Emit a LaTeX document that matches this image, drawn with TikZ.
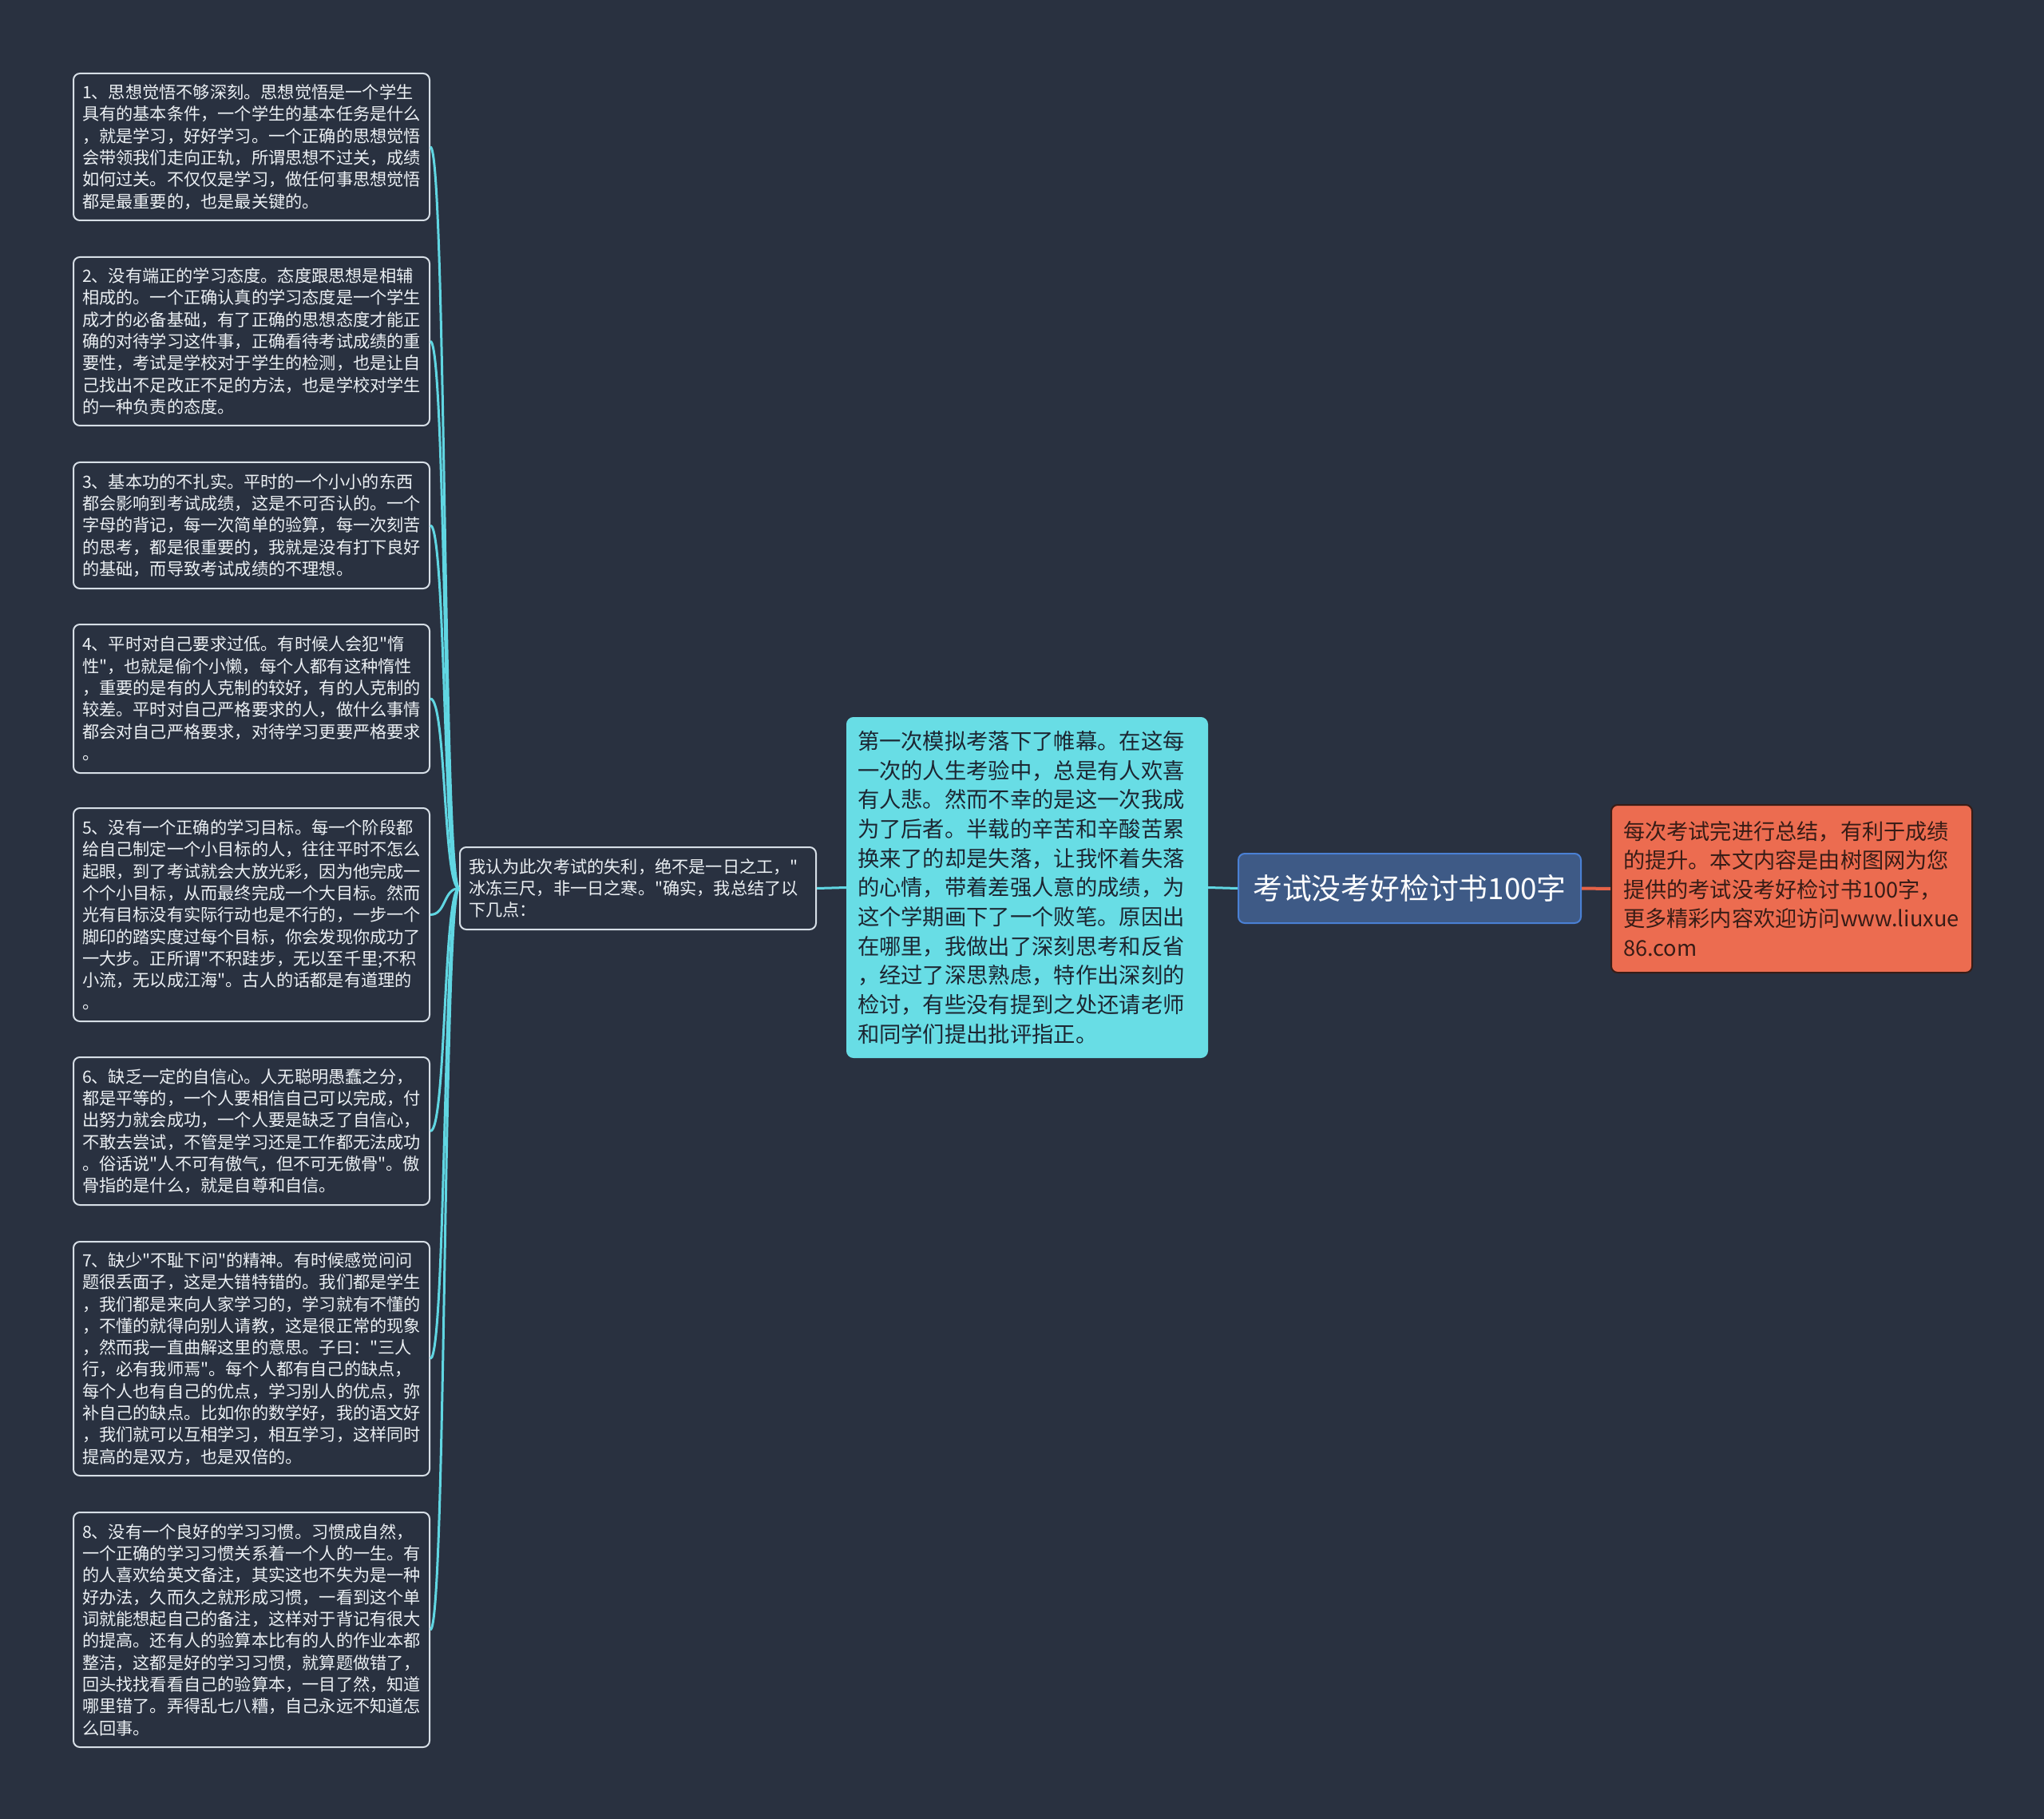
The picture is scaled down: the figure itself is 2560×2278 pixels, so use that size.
\documentclass[tikz,border=0pt]{standalone}
\usepackage{fontspec}
\setmainfont{Noto Sans CJK SC}[Ligatures=TeXOff]
\definecolor{darkslate}{RGB}{41,49,64}
\definecolor{paleline}{RGB}{214,222,230}
\definecolor{paletext}{RGB}{236,240,244}
\definecolor{aqua}{RGB}{104,221,229}
\definecolor{aqualine}{RGB}{96,214,226}
\definecolor{steelbox}{RGB}{62,90,134}
\definecolor{royalline}{RGB}{74,128,212}
\definecolor{coral}{RGB}{236,108,80}
\definecolor{coralline}{RGB}{228,98,72}
\definecolor{inkdark}{RGB}{28,38,50}
\definecolor{inkbrown}{RGB}{56,28,22}

\tikzset{
	leaf/.style={shape=rectangle,line width=0.5pt,
				 draw=paleline,fill=darkslate,text=paletext,
				 rounded corners=2pt,anchor=north west,
				 align=left,text width=106pt,
				 inner xsep=2.75pt,inner ysep=0pt,
				 font=\fontsize{5.3pt}{6.83pt}\selectfont},
	twig/.style={draw=aqualine,line width=0.75pt}
}

\begin{document}
\begin{tikzpicture}[x=0.25pt,y=-0.25pt]
		\fill[darkslate] (0,0) rectangle (2560,2278);
		% root
		\draw node(main)[shape=rectangle,line width=0.5pt,
						 fill=steelbox,draw=royalline,text=white,
						 rounded corners=2pt,anchor=north west,
						 minimum width=107.25pt,minimum height=21.75pt,
						 font=\fontsize{9.2pt}{11pt}\selectfont]
			at (1550,1068) {考试没考好检讨书100字};
		\draw node(summary)[shape=rectangle,line width=0.5pt,
						 fill=coral,draw=inkbrown,text=inkbrown,
						 rounded corners=2pt,anchor=north west,
						 align=left,text width=105.5pt,
						 inner xsep=3.75pt,inner ysep=0pt,minimum height=52.5pt,
						 font=\fontsize{6.8pt}{9.1pt}\selectfont]
			at (2017,1007) {每次考试完进行总结，有利于成绩\\
							的提升。本文内容是由树图网为您\\
							提供的考试没考好检讨书100字，\\
							更多精彩内容欢迎访问www.liuxue\\
							86.com};
		\draw node(intro)[shape=rectangle,line width=0.5pt,
						 fill=aqua,draw=aqua,text=inkdark,
						 rounded corners=2pt,anchor=north west,
						 align=left,text width=106.25pt,
						 inner xsep=3.25pt,inner ysep=0pt,minimum height=106.25pt,
						 font=\fontsize{6.83pt}{9.17pt}\selectfont]
			at (1060,898) {第一次模拟考落下了帷幕。在这每\\
							一次的人生考验中，总是有人欢喜\\
							有人悲。然而不幸的是这一次我成\\
							为了后者。半载的辛苦和辛酸苦累\\
							换来了的却是失落，让我怀着失落\\
							的心情，带着差强人意的成绩，为\\
							这个学期画下了一个败笔。原因出\\
							在哪里，我做出了深刻思考和反省\\
							，经过了深思熟虑，特作出深刻的\\
							检讨，有些没有提到之处还请老师\\
							和同学们提出批评指正。};
		\draw node(lead)[leaf,minimum height=25.75pt] at (575,1060)
			{我认为此次考试的失利，绝不是一日之工，"\\
			 冰冻三尺，非一日之寒。"确实，我总结了以\\
			 下几点：};
		% the eight points
		\draw node(reason1)[leaf,minimum height=46pt] at (91,91)
			{1、思想觉悟不够深刻。思想觉悟是一个学生\\
			 具有的基本条件，一个学生的基本任务是什么\\
			 ，就是学习，好好学习。一个正确的思想觉悟\\
			 会带领我们走向正轨，所谓思想不过关，成绩\\
			 如何过关。不仅仅是学习，做任何事思想觉悟\\
			 都是最重要的，也是最关键的。};
		\draw node(reason2)[leaf,minimum height=52.75pt] at (91,321)
			{2、没有端正的学习态度。态度跟思想是相辅\\
			 相成的。一个正确认真的学习态度是一个学生\\
			 成才的必备基础，有了正确的思想态度才能正\\
			 确的对待学习这件事，正确看待考试成绩的重\\
			 要性，考试是学校对于学生的检测，也是让自\\
			 己找出不足改正不足的方法，也是学校对学生\\
			 的一种负责的态度。};
		\draw node(reason3)[leaf,minimum height=39.5pt] at (91,578)
			{3、基本功的不扎实。平时的一个小小的东西\\
			 都会影响到考试成绩，这是不可否认的。一个\\
			 字母的背记，每一次简单的验算，每一次刻苦\\
			 的思考，都是很重要的，我就是没有打下良好\\
			 的基础，而导致考试成绩的不理想。};
		\draw node(reason4)[leaf,minimum height=46.5pt] at (91,781)
			{4、平时对自己要求过低。有时候人会犯"惰\\
			 性"，也就是偷个小懒，每个人都有这种惰性\\
			 ，重要的是有的人克制的较好，有的人克制的\\
			 较差。平时对自己严格要求的人，做什么事情\\
			 都会对自己严格要求，对待学习更要严格要求\\
			 。};
		\draw node(reason5)[leaf,minimum height=66.75pt] at (91,1011)
			{5、没有一个正确的学习目标。每一个阶段都\\
			 给自己制定一个小目标的人，往往平时不怎么\\
			 起眼，到了考试就会大放光彩，因为他完成一\\
			 个个小目标，从而最终完成一个大目标。然而\\
			 光有目标没有实际行动也是不行的，一步一个\\
			 脚印的踏实度过每个目标，你会发现你成功了\\
			 一大步。正所谓"不积跬步，无以至千里;不积\\
			 小流，无以成江海"。古人的话都是有道理的\\
			 。};
		\draw node(reason6)[leaf,minimum height=46.25pt] at (91,1323)
			{6、缺乏一定的自信心。人无聪明愚蠢之分，\\
			 都是平等的，一个人要相信自己可以完成，付\\
			 出努力就会成功，一个人要是缺乏了自信心，\\
			 不敢去尝试，不管是学习还是工作都无法成功\\
			 。俗话说"人不可有傲气，但不可无傲骨"。傲\\
			 骨指的是什么，就是自尊和自信。};
		\draw node(reason7)[leaf,minimum height=73.25pt] at (91,1554)
			{7、缺少"不耻下问"的精神。有时候感觉问问\\
			 题很丢面子，这是大错特错的。我们都是学生\\
			 ，我们都是来向人家学习的，学习就有不懂的\\
			 ，不懂的就得向别人请教，这是很正常的现象\\
			 ，然而我一直曲解这里的意思。子曰："三人\\
			 行，必有我师焉"。每个人都有自己的缺点，\\
			 每个人也有自己的优点，学习别人的优点，弥\\
			 补自己的缺点。比如你的数学好，我的语文好\\
			 ，我们就可以互相学习，相互学习，这样同时\\
			 提高的是双方，也是双倍的。};
		\draw node(reason8)[leaf,minimum height=73.5pt] at (91,1893)
			{8、没有一个良好的学习习惯。习惯成自然，\\
			 一个正确的学习习惯关系着一个人的一生。有\\
			 的人喜欢给英文备注，其实这也不失为是一种\\
			 好办法，久而久之就形成习惯，一看到这个单\\
			 词就能想起自己的备注，这样对于背记有很大\\
			 的提高。还有人的验算本比有的人的作业本都\\
			 整洁，这都是好的学习习惯，就算题做错了，\\
			 回头找找看看自己的验算本，一目了然，知道\\
			 哪里错了。弄得乱七八糟，自己永远不知道怎\\
			 么回事。};
		% links
		\draw[twig] (main.west) -- (intro.east);
		\draw[twig] (intro.west) -- (lead.east);
		\draw[twig,draw=coralline,line width=1pt] (main.east) -- (summary.west);
		\foreach \k in {1,...,8}
			\draw[twig] (lead.west) .. controls +(-20,0) and +(20,0) .. (reason\k.east);
		\end{tikzpicture}
\end{document}
